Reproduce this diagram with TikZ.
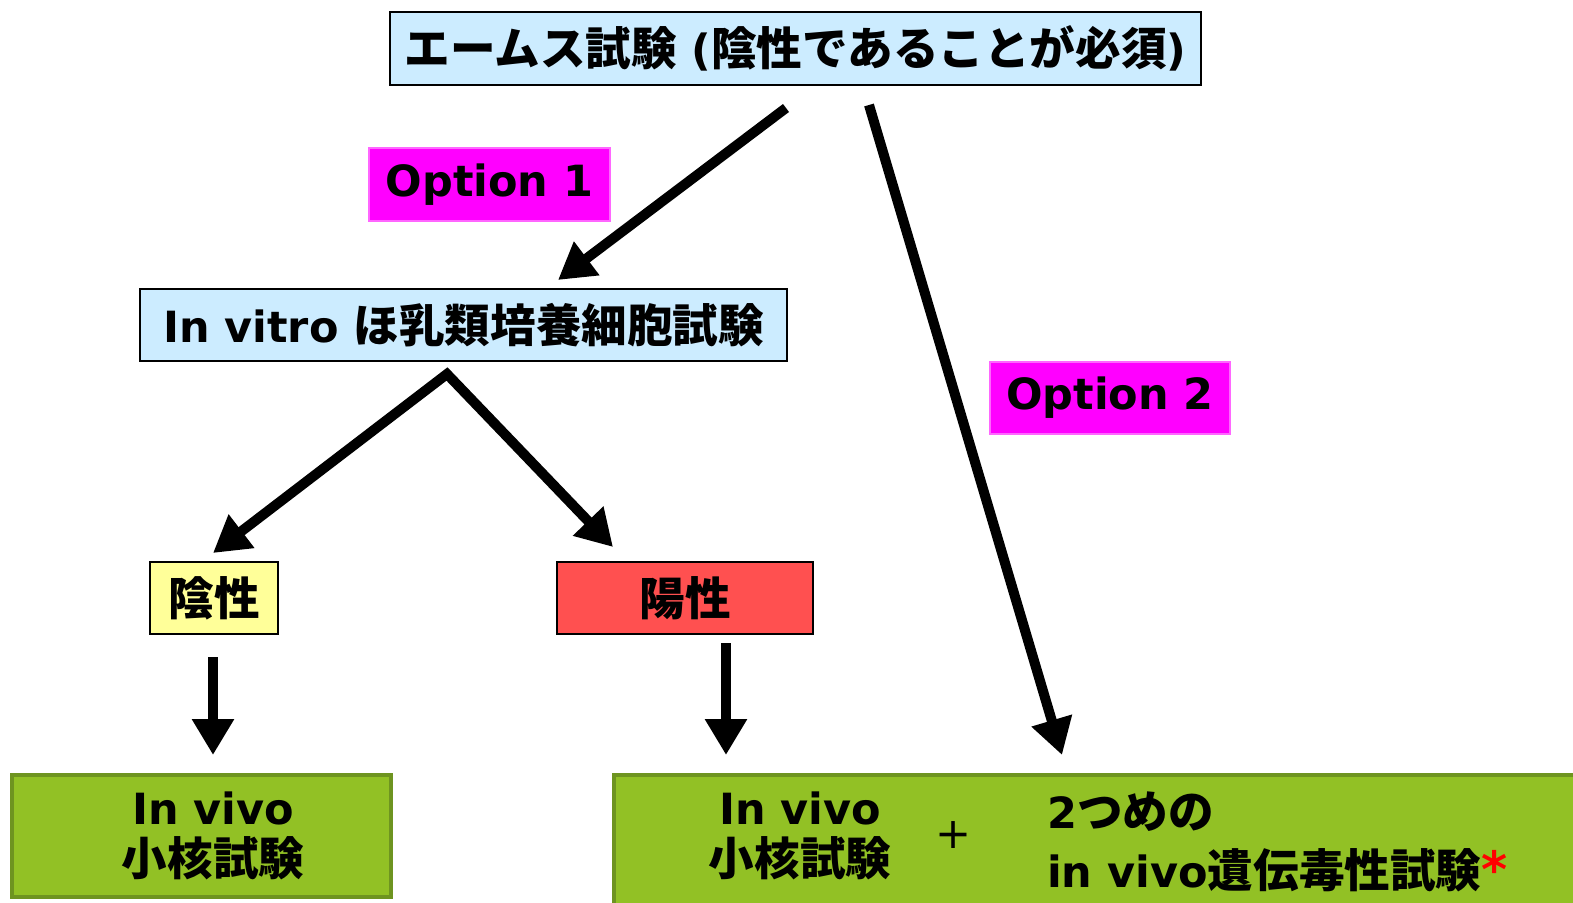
\documentclass[tikz,border=0pt]{standalone}
\usepackage{fontspec}
\setmainfont{DejaVu Sans}
\newfontfamily\jp{Noto Sans CJK JP}[Scale=1.06]
\usetikzlibrary{arrows.meta}
\definecolor{lblue}{HTML}{CCECFF}
\definecolor{optmag}{HTML}{FF00FF}
\definecolor{optedge}{HTML}{FF66FF}
\definecolor{lyel}{HTML}{FFFF99}
\definecolor{lred}{HTML}{FF5050}
\definecolor{grn}{HTML}{92C125}
\definecolor{grnedge}{HTML}{6E9420}
\newcommand\J[1]{{\jp #1}}
\tikzset{
  txt/.style={font=\bfseries\fontsize{43}{50}\selectfont, inner sep=0pt},
  box/.style={txt, draw=black, line width=1.5pt},
  optbox/.style={txt, fill=optmag, draw=optedge, line width=1.5pt},
  grnbox/.style={fill=grn, draw=grnedge, line width=4pt, inner sep=0pt},
  arr/.style={line width=10pt, -{Triangle[length=36pt,width=40pt]}},
  arr2/.style={line width=10pt, line join=miter, {Triangle[length=36pt,width=40pt]}-{Triangle[length=36pt,width=40pt]}},
}
\begin{document}
\begin{tikzpicture}[x=1pt,y=-1pt]
\useasboundingbox (0,0) rectangle (1573,902);
\clip (0,0) rectangle (1573,902);
% boxes
\node[box, fill=lblue, minimum width=811pt, minimum height=73pt] (ames) at (795.5,48.5)
  {\J{エームス試験} (\J{陰性であることが必須})};
\node[optbox, minimum width=241pt, minimum height=73pt] (opt1) at (489.5,184.5) {Option 1};
\node[optbox, minimum width=240pt, minimum height=72pt] (opt2) at (1110,398) {Option 2};
\node[box, fill=lblue, minimum width=647pt, minimum height=72pt] (vitro) at (463.5,325)
  {In vitro \J{ほ乳類培養細胞試験}};
\node[box, fill=lyel, minimum width=128pt, minimum height=72pt] (neg) at (214,598) {\J{陰性}};
\node[box, fill=lred, minimum width=256pt, minimum height=72pt] (pos) at (685,598) {\J{陽性}};
\node[grnbox, minimum width=379pt, minimum height=122pt] (gL) at (201.5,836) {};
\node[grnbox, minimum width=975pt, minimum height=132pt] (gR) at (1101,841) {};
% texts in green boxes
\node[txt] (gL1) at (213,808) {In vivo};
\node[txt] (gL2) at (213,858) {\J{小核試験}};
\node[txt] (gR1) at (800,808) {In vivo};
\node[txt] (gR2) at (800,858) {\J{小核試験}};
\node[font=\fontsize{43}{50}\selectfont, inner sep=0pt] (plus) at (954,835) {+};
\node[txt, anchor=west] (gR3) at (1047,812) {2\J{つめの}};
\node[txt, anchor=west] (gR4) at (1047,870) {in vivo\J{遺伝毒性試験}\textcolor{red}{\fontsize{50}{50}\selectfont *}};
% arrow coordinates
\coordinate (a1s) at (786,108);
\coordinate (a1e) at (558,280);
\coordinate (a2s) at (869,105);
\coordinate (a2e) at (1062,755);
\coordinate (bs) at (447,374);
\coordinate (bL) at (213,553);
\coordinate (bR) at (613,547);
\coordinate (nS) at (213,657);
\coordinate (nE) at (213,755);
\coordinate (pS) at (726,643);
\coordinate (pE) at (726,755);
\draw[arr] (a1s) -- (a1e);
\draw[arr] (a2s) -- (a2e);
\draw[arr2] (bL) -- (bs) -- (bR);
\draw[arr] (nS) -- (nE);
\draw[arr] (pS) -- (pE);
\end{tikzpicture}
\end{document}
